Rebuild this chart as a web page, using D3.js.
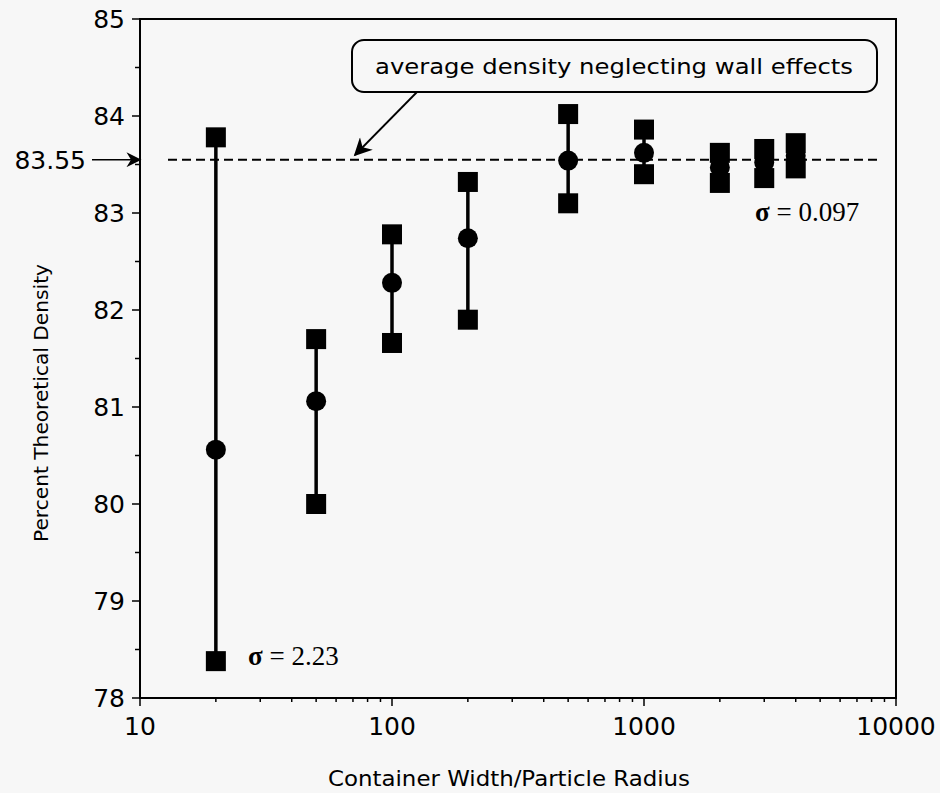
<!DOCTYPE html>
<html lang="en">
  <head>
    <meta charset="UTF-8" />
    <title>Percent Theoretical Density vs Container Width</title>
    <style>
      body {
        margin: 0;
        background: #f7f7f7;
      }
      svg {
        display: block;
      }
      .tick-label {
        font-family: "DejaVu Sans", sans-serif;
        font-size: 25px;
        fill: #000;
      }
      .title {
        font-family: "DejaVu Sans", sans-serif;
        fill: #000;
      }
      .sigma {
        font-family: "Liberation Serif", "Times New Roman", serif;
        font-size: 27px;
        fill: #000;
      }
    </style>
  </head>
  <body>
    <div id="chart"></div>
    <script src="https://d3js.org/d3.v7.min.js"></script>
    <script>
      // container width / particle radius
      const ratios = [20, 50, 100, 200, 500, 1000, 2000, 3000, 4000];
      // percent theoretical density: mean, upper and lower bars
      const means = [80.56, 81.06, 82.28, 82.74, 83.54, 83.62, 83.47, 83.52, 83.59];
      const highs = [83.78, 81.7, 82.78, 83.32, 84.02, 83.86, 83.62, 83.66, 83.72];
      const lows = [78.38, 80.0, 81.66, 81.9, 83.1, 83.4, 83.31, 83.36, 83.46];
      const avgDensity = 83.55;
      const yTickValues = [78, 79, 80, 81, 82, 83, 84, 85];
      const xTickValues = [10, 100, 1000, 10000];

      const width = 940;
      const height = 793;
      const svg = d3
        .select("#chart")
        .append("svg")
        .attr("width", width)
        .attr("height", height);

      const plotLeft = 140,
        plotRight = 896,
        plotTop = 19,
        plotBottom = 698;

      const x = d3.scaleLog().domain([10, 10000]).range([plotLeft, plotRight]);
      const y = d3.scaleLinear().domain([78, 85]).range([plotBottom, plotTop]);

      // frame
      svg
        .append("rect")
        .attr("x", plotLeft)
        .attr("y", plotTop)
        .attr("width", plotRight - plotLeft)
        .attr("height", plotBottom - plotTop)
        .attr("fill", "none")
        .attr("stroke", "#000")
        .attr("stroke-width", 2);

      // x ticks (log, with minor ticks)
      const isMajor = (v) => xTickValues.includes(v);
      svg
        .selectAll(".xtick")
        .data(x.ticks())
        .enter()
        .append("line")
        .attr("x1", (d) => x(d))
        .attr("x2", (d) => x(d))
        .attr("y1", plotBottom)
        .attr("y2", (d) => plotBottom + (isMajor(d) ? 8 : 4))
        .attr("stroke", "#000")
        .attr("stroke-width", 1.5);

      svg
        .selectAll(".xlabel")
        .data(xTickValues)
        .enter()
        .append("text")
        .attr("class", "tick-label")
        .attr("x", (d) => x(d))
        .attr("y", plotBottom + 37)
        .attr("text-anchor", "middle")
        .text((d) => d);

      // y ticks, minor at half units
      const yMinor = d3.range(78.5, 85, 1);
      svg
        .selectAll(".ytick")
        .data(yTickValues.concat(yMinor))
        .enter()
        .append("line")
        .attr("x1", plotLeft)
        .attr("x2", (d) => plotLeft - (Number.isInteger(d) ? 8 : 5))
        .attr("y1", (d) => y(d))
        .attr("y2", (d) => y(d))
        .attr("stroke", "#000")
        .attr("stroke-width", 1.5);

      svg
        .selectAll(".ylabel")
        .data(yTickValues)
        .enter()
        .append("text")
        .attr("class", "tick-label")
        .attr("x", plotLeft - 15)
        .attr("y", (d) => y(d))
        .attr("dy", "0.36em")
        .attr("text-anchor", "end")
        .text((d) => d);

      // arrow heads
      const defs = svg.append("defs");
      defs
        .append("marker")
        .attr("id", "head")
        .attr("viewBox", "0 0 10 10")
        .attr("refX", 9)
        .attr("refY", 5)
        .attr("markerWidth", 18)
        .attr("markerHeight", 15)
        .attr("markerUnits", "userSpaceOnUse")
        .attr("orient", "auto")
        .append("path")
        .attr("d", "M0,0 L10,5 L0,10 L3,5 Z")
        .attr("fill", "#000");
      defs
        .append("marker")
        .attr("id", "head-big")
        .attr("viewBox", "0 0 10 10")
        .attr("refX", 9)
        .attr("refY", 5)
        .attr("markerWidth", 20)
        .attr("markerHeight", 18)
        .attr("markerUnits", "userSpaceOnUse")
        .attr("orient", "auto")
        .append("path")
        .attr("d", "M0,0 L10,5 L0,10 L3,5 Z")
        .attr("fill", "#000");

      // 83.55 marker with arrow
      svg
        .append("text")
        .attr("class", "tick-label")
        .attr("x", 86)
        .attr("y", y(avgDensity))
        .attr("dy", "0.36em")
        .attr("text-anchor", "end")
        .text(avgDensity);
      svg
        .append("line")
        .attr("x1", 92)
        .attr("x2", plotLeft)
        .attr("y1", y(avgDensity))
        .attr("y2", y(avgDensity))
        .attr("stroke", "#000")
        .attr("stroke-width", 1.5)
        .attr("marker-end", "url(#head)");

      // dashed average line
      svg
        .append("line")
        .attr("x1", 168)
        .attr("x2", 880)
        .attr("y1", y(avgDensity))
        .attr("y2", y(avgDensity))
        .attr("stroke", "#000")
        .attr("stroke-width", 2)
        .attr("stroke-dasharray", "9,5");

      // error bars
      const data = ratios.map((r, i) => ({
        r,
        mean: means[i],
        hi: highs[i],
        lo: lows[i],
      }));

      svg
        .selectAll(".bar")
        .data(data)
        .enter()
        .append("line")
        .attr("x1", (d) => x(d.r))
        .attr("x2", (d) => x(d.r))
        .attr("y1", (d) => y(d.hi))
        .attr("y2", (d) => y(d.lo))
        .attr("stroke", "#000")
        .attr("stroke-width", 3.5);

      const sq = 20;
      svg
        .selectAll(".hi")
        .data(data)
        .enter()
        .append("rect")
        .attr("x", (d) => x(d.r) - sq / 2)
        .attr("y", (d) => y(d.hi) - sq / 2)
        .attr("width", sq)
        .attr("height", sq)
        .attr("fill", "#000");
      svg
        .selectAll(".lo")
        .data(data)
        .enter()
        .append("rect")
        .attr("x", (d) => x(d.r) - sq / 2)
        .attr("y", (d) => y(d.lo) - sq / 2)
        .attr("width", sq)
        .attr("height", sq)
        .attr("fill", "#000");
      svg
        .selectAll(".mean")
        .data(data)
        .enter()
        .append("circle")
        .attr("cx", (d) => x(d.r))
        .attr("cy", (d) => y(d.mean))
        .attr("r", 10)
        .attr("fill", "#000");

      // annotation box
      svg
        .append("rect")
        .attr("x", 352)
        .attr("y", 40)
        .attr("width", 525)
        .attr("height", 52)
        .attr("rx", 12)
        .attr("fill", "none")
        .attr("stroke", "#000")
        .attr("stroke-width", 2);
      svg
        .append("text")
        .attr("class", "title")
        .attr("x", 614)
        .attr("y", 74)
        .attr("text-anchor", "middle")
        .attr("font-size", 22)
        .attr("textLength", 478)
        .attr("lengthAdjust", "spacingAndGlyphs")
        .text("average density neglecting wall effects");
      svg
        .append("line")
        .attr("x1", 417)
        .attr("y1", 92)
        .attr("x2", 355)
        .attr("y2", 155)
        .attr("stroke", "#000")
        .attr("stroke-width", 1.8)
        .attr("marker-end", "url(#head-big)");

      // sigma labels
      const sigmaLabels = [
        { x: 248, y: 665, value: "2.23" },
        { x: 755, y: 221, value: "0.097" },
      ];
      sigmaLabels.forEach((s) => {
        const t = svg
          .append("text")
          .attr("class", "sigma")
          .attr("x", s.x)
          .attr("y", s.y);
        t.append("tspan").attr("font-weight", "bold").text("σ");
        t.append("tspan").text(" = " + s.value);
      });

      // axis titles
      svg
        .append("text")
        .attr("class", "title")
        .attr("x", 509)
        .attr("y", 786)
        .attr("text-anchor", "middle")
        .attr("font-size", 21)
        .attr("textLength", 362)
        .attr("lengthAdjust", "spacingAndGlyphs")
        .text("Container Width/Particle Radius");
      svg
        .append("text")
        .attr("class", "title")
        .attr("transform", "translate(48,403) rotate(-90)")
        .attr("text-anchor", "middle")
        .attr("font-size", 20)
        .attr("textLength", 278)
        .attr("lengthAdjust", "spacingAndGlyphs")
        .text("Percent Theoretical Density");
    </script>
  </body>
</html>
